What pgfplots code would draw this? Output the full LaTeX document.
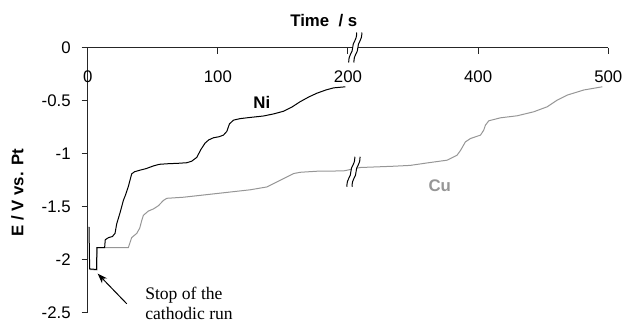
\documentclass[border=0pt]{standalone}
\usepackage{pgfplots}
\pgfplotsset{compat=1.18}
\usepackage{fontspec}
\setmainfont{Liberation Sans}
\newfontfamily\seriffont{Liberation Serif}
\usetikzlibrary{arrows.meta}
\definecolor{cugray}{RGB}{150,150,150}
\begin{document}
\begin{tikzpicture}
\begin{axis}[
  at={(0,0)}, anchor=south west, scale only axis,
  width=260.3pt, height=132.75pt,
  xmin=0, xmax=400, ymin=-2.5, ymax=0,
  axis x line=top, axis y line=left,
  axis line style={-, line width=0.5pt, black!85},
  xtick={0,100,200,300,400}, xticklabels={0,100,200,400,500},
  ytick={-2.5,-2,-1.5,-1,-0.5,0}, yticklabels={-2.5,-2,-1.5,-1,-0.5,0},
  xtick align=inside, ytick align=outside,
  major tick length=3pt,
  tick style={line width=0.5pt, black!85},
  tick label style={font=\fontsize{8.4}{10}\selectfont},
  xticklabel style={anchor=center, yshift=-14.5pt},
  yticklabel style={anchor=east, xshift=-2pt},
  clip=false,
]
% Cu (gray); x in axis units: t for t<=200, t-100 for t>=300
\addplot[cugray, line width=0.5pt] coordinates {
(1.5,-2.09) (7,-2.095) (7.2,-1.885) (31.2,-1.885) (33.8,-1.79) (37.7,-1.75) (40,-1.70)
(41.5,-1.63) (42.8,-1.58) (46.6,-1.54) (50.5,-1.52) (54.3,-1.49) (58.2,-1.44)
(60.8,-1.42) (73.5,-1.41) (99.2,-1.375) (124.8,-1.34) (137.7,-1.313) (145.4,-1.266)
(150.5,-1.234) (158.2,-1.187) (163.3,-1.175) (176.2,-1.165) (196.6,-1.162)
(209.5,-1.13) (235.1,-1.118) (247.9,-1.11) (260.8,-1.087) (276.2,-1.061)
(283.8,-1.014) (286.4,-0.97) (288,-0.936) (290.2,-0.889) (294.1,-0.857)
(301.8,-0.825) (304.3,-0.778) (305.6,-0.731) (308.2,-0.69) (317.2,-0.662)
(330,-0.643) (342.8,-0.605) (353.1,-0.558) (360.8,-0.495) (368.5,-0.448)
(381.2,-0.40) (395.4,-0.37)
};
% Ni (black)
\addplot[black, line width=0.5pt] coordinates {
(1,-1.69) (1.5,-2.085) (6.9,-2.09) (7,-1.885) (13,-1.885) (13.5,-1.81) (16,-1.79)
(19,-1.78) (21,-1.75) (22.3,-1.66) (25,-1.55) (27.4,-1.44) (29,-1.39) (31.2,-1.31)
(33.8,-1.19) (36,-1.17) (40.2,-1.155) (45,-1.14) (50.5,-1.115) (55,-1.10)
(60.8,-1.095) (70,-1.09) (76.2,-1.085) (80,-1.07) (83.8,-1.035) (87,-0.96)
(90.2,-0.90) (93,-0.87) (96.6,-0.85) (101,-0.84) (104.3,-0.825) (106.9,-0.79)
(108.9,-0.72) (112,-0.684) (117,-0.67) (122.3,-0.662) (135,-0.645) (143,-0.625)
(150.5,-0.60) (157,-0.56) (163.3,-0.51) (170,-0.465) (176.2,-0.43) (183,-0.40)
(189,-0.38) (198,-0.37)
};
% axis break marks
\begin{scope}[shift={(axis cs:205.6,0)}]
  \draw[white, line width=2.6pt] (-2pt,-7.5pt) .. controls (-2pt,-3pt) and (0pt,-3pt) .. (0pt,0pt) .. controls (0pt,3pt) and (2pt,3pt) .. (2pt,7.5pt);
  \draw[black, line width=0.5pt] (-3.3pt,-7.5pt) .. controls (-3.3pt,-3pt) and (-1.3pt,-3pt) .. (-1.3pt,0pt) .. controls (-1.3pt,3pt) and (0.7pt,3pt) .. (0.7pt,7.5pt);
  \draw[black, line width=0.5pt] (-0.7pt,-7.5pt) .. controls (-0.7pt,-3pt) and (1.3pt,-3pt) .. (1.3pt,0pt) .. controls (1.3pt,3pt) and (3.3pt,3pt) .. (3.3pt,7.5pt);
\end{scope}
\begin{scope}[shift={(axis cs:204.2,-1.17)}]
  \draw[white, line width=2.6pt] (-2pt,-7.5pt) .. controls (-2pt,-3pt) and (0pt,-3pt) .. (0pt,0pt) .. controls (0pt,3pt) and (2pt,3pt) .. (2pt,7.5pt);
  \draw[black, line width=0.5pt] (-3.3pt,-7.5pt) .. controls (-3.3pt,-3pt) and (-1.3pt,-3pt) .. (-1.3pt,0pt) .. controls (-1.3pt,3pt) and (0.7pt,3pt) .. (0.7pt,7.5pt);
  \draw[black, line width=0.5pt] (-0.7pt,-7.5pt) .. controls (-0.7pt,-3pt) and (1.3pt,-3pt) .. (1.3pt,0pt) .. controls (1.3pt,3pt) and (3.3pt,3pt) .. (3.3pt,7.5pt);
\end{scope}
% labels
\node[font=\bfseries\fontsize{8.4}{10}\selectfont] at (axis cs:181.4,0.252) {Time\ \ / s};
\node[font=\bfseries\fontsize{8.4}{10}\selectfont, rotate=90] at (axis cs:-54,-1.368) {E / V vs. Pt};
\node[font=\bfseries\fontsize{8.4}{10}\selectfont] at (axis cs:133.8,-0.519) {Ni};
\node[font=\bfseries\fontsize{8.4}{10}\selectfont, text=cugray] at (axis cs:270.5,-1.302) {Cu};
\draw[-{Stealth[length=5pt,width=3.6pt]}, line width=0.5pt] (axis cs:30,-2.413) -- (axis cs:7.7,-2.13);
\node[anchor=west, align=left, font=\seriffont\fontsize{8.8}{10}\selectfont] at (axis cs:38.8,-2.41) {Stop of the\\cathodic run};
\end{axis}
\pgfresetboundingbox
\path[use as bounding box] (-43.85pt,-4pt) rectangle (269.65pt,156.5pt);
\end{tikzpicture}
\end{document}
